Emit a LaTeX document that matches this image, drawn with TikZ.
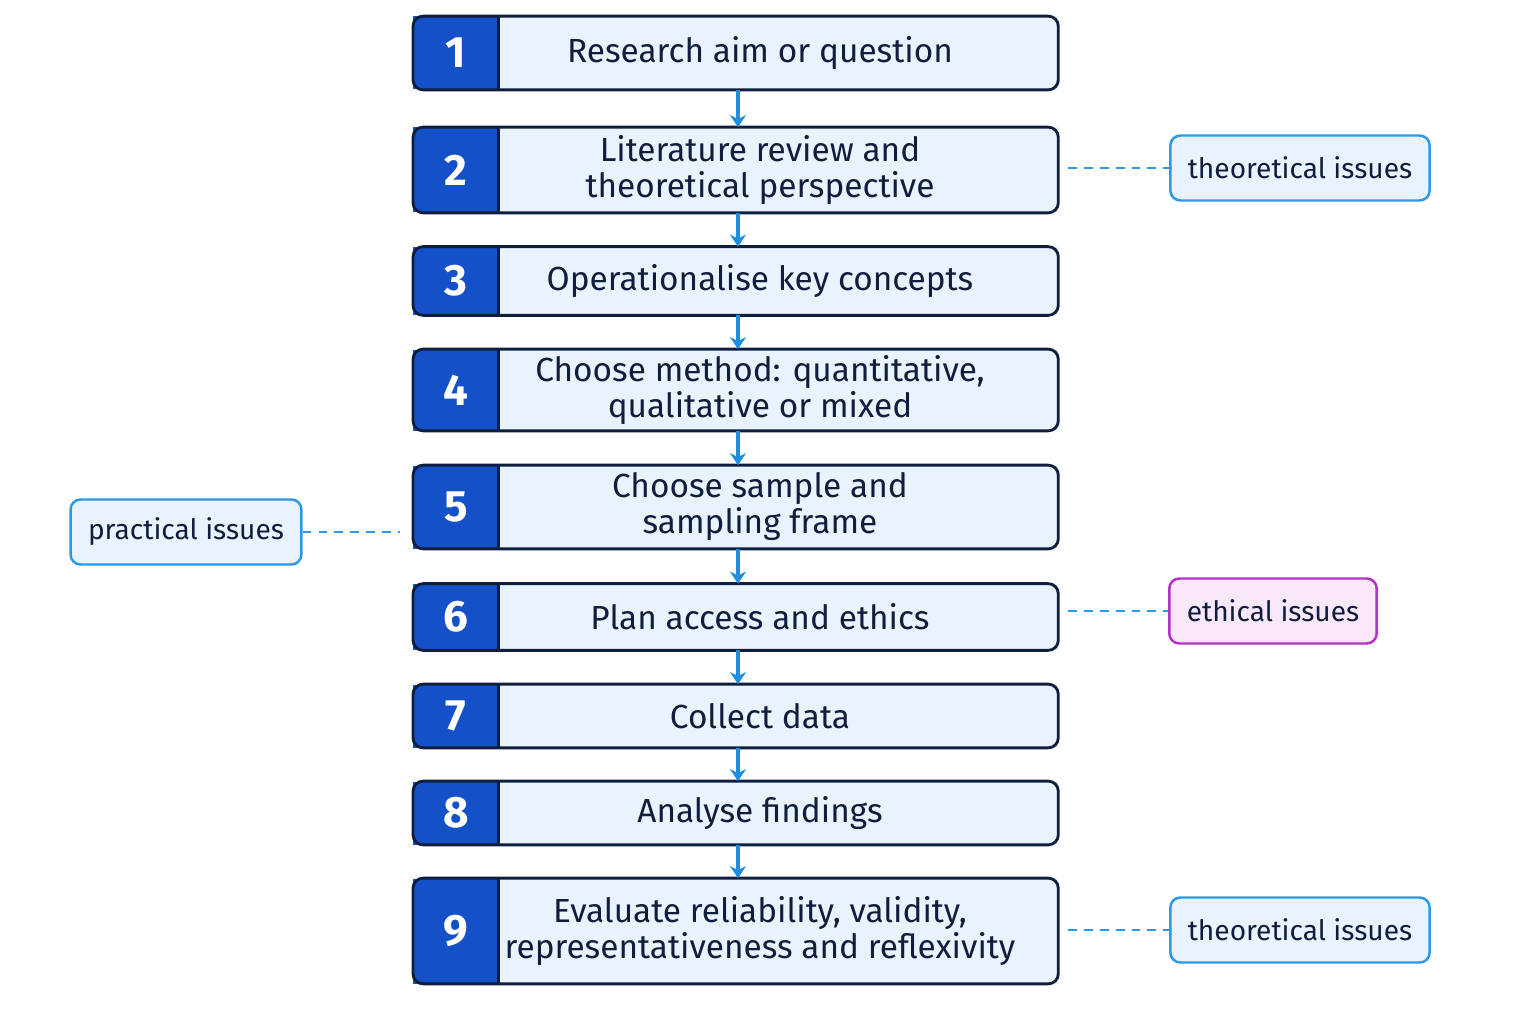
\documentclass[tikz,border=0pt]{standalone}
\usepackage{fontspec}
\setmainfont{Fira Sans}
\usepackage{xcolor}
\usetikzlibrary{arrows.meta,positioning,calc}
\definecolor{stepfill}{HTML}{E9F3FD}
\definecolor{numblue}{HTML}{1450C8}
\definecolor{navy}{HTML}{0F1E3C}
\definecolor{arrblue}{HTML}{1E8FE0}
\definecolor{noteblue}{HTML}{2A9AE8}
\definecolor{ethic}{HTML}{B530C8}
\definecolor{ethicfill}{HTML}{F9E8FA}
\begin{document}
\begin{tikzpicture}[x=0.02cm, y=-0.02cm,
  stage/.style={fill=stepfill, minimum width=11.92cm, inner sep=0pt, align=center,
    font=\fontsize{19}{20.5}\selectfont, text=navy},
  num/.style={fill=numblue, minimum width=1.7cm, inner sep=0pt, text=white,
    font=\fontsize{25}{27}\selectfont\bfseries},
  frame/.style={draw=navy, line width=1.6pt, rounded corners=2mm},
  arr/.style={-{Stealth[length=2.4mm,width=3.2mm]}, draw=arrblue, line width=1.8pt},
  link/.style={draw=noteblue, dash pattern=on 5pt off 4pt, line width=1.4pt},
  note/.style={draw=noteblue, fill=stepfill, rounded corners=2mm, line width=1.4pt,
    minimum height=1.3cm, inner xsep=0.35cm, text=navy, font=\fontsize{16}{18}\selectfont}
]
\fill[white] (0,0) rectangle (1536,1024);
\useasboundingbox (0,0) rectangle (1536,1024);
\coordinate (ax) at (738,0);

% steps
\foreach \i/\y/\h/\t in {
  1/53/73/{Research aim or question},
  2/170/85/{Literature review and\\theoretical perspective},
  3/281/68/{Operationalise key concepts},
  4/390/81/{Choose method: quantitative,\\qualitative or mixed},
  5/507/83/{Choose sample and\\sampling frame},
  6/617/66/{Plan access and ethics},
  7/716/63/{Collect data},
  8/813/63/{Analyse findings},
  9/931/105/{Evaluate reliability, validity,\\representativeness and reflexivity}}
{
  \node[stage, minimum height=\h*0.02cm] (s\i) at (760,\y) {\t};
  \node[num, minimum height=\h*0.02cm, anchor=west] (n\i) at (413,\y) {\i};
  \draw[frame] (n\i.north west) rectangle (s\i.south east);
  \draw[draw=navy, line width=1.6pt] (n\i.north east) -- (n\i.south east);
}

\foreach \i [evaluate=\i as \j using int(\i+1)] in {1,...,8}
  \draw[arr] (s\i.south -| ax) -- (s\j.north -| ax);

% side notes
\node[note] (t2) at (1300,168) {theoretical issues};
\node[note] (p5) at (186,532) {practical issues};
\node[note, draw=ethic, fill=ethicfill] (e6) at (1273,611) {ethical issues};
\node[note] (t9) at (1300,930) {theoretical issues};

\draw[link, shorten <=0.2cm] (s2.east |- t2) -- (t2.west);
\draw[link, shorten >=0.26cm] (p5.east) -- (n5.west |- p5);
\draw[link, shorten <=0.2cm] (s6.east |- e6) -- (e6.west);
\draw[link, shorten <=0.2cm] (s9.east |- t9) -- (t9.west);
\end{tikzpicture}
\end{document}
